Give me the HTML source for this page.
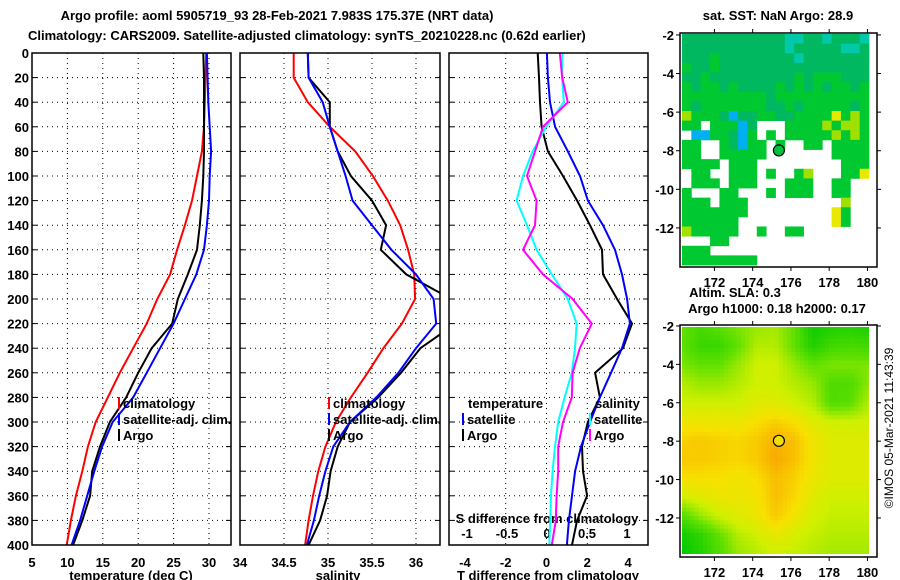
<!DOCTYPE html>
<html><head><meta charset="utf-8"><style>
body{margin:0;background:#fff;}
svg{display:block;font-family:"Liberation Sans",sans-serif;font-weight:bold;font-size:13px;}
</style></head><body>
<svg id="c" width="900" height="580" viewBox="0 0 900 580" xmlns="http://www.w3.org/2000/svg">
<text x="277" y="20" text-anchor="middle">Argo profile: aoml 5905719_93 28-Feb-2021 7.983S 175.37E (NRT data)</text>
<text x="28" y="40">Climatology: CARS2009. Satellite-adjusted climatology: synTS_20210228.nc (0.62d earlier)</text>
<text x="778" y="20" text-anchor="middle">sat. SST: NaN Argo: 28.9</text>
<text x="735" y="297" text-anchor="middle">Altim. SLA: 0.3</text>
<text x="777" y="313" text-anchor="middle">Argo h1000: 0.18 h2000: 0.17</text>
<text transform="translate(893,428) rotate(-90)" text-anchor="middle" style="font-weight:normal;font-size:12px">©IMOS 05-Mar-2021 11:43:39</text>
<g id="g"></g>
</svg>
<script>
const depths=[0,20,40,60,80,100,120,140,160,180,200,220,240,260,280,300,320,340,360,380,400];
const tempArgo=[29.2,29.3,29.3,29.3,29.3,29.2,29.0,28.7,28.3,27.0,25.6,24.8,21.9,20.0,18.3,16.0,14.6,13.5,13.2,12.1,10.8];
const tempSat=[29.7,29.8,29.9,30.1,30.3,30.1,30.0,29.7,29.3,28.2,26.6,25.0,23.1,21.2,19.3,16.4,14.9,13.8,12.8,11.8,10.6];
const tempClim=[29.6,29.5,29.4,29.3,29.0,28.3,27.6,26.6,25.5,24.5,22.7,21.2,19.3,17.4,15.7,14.0,12.9,12.1,11.2,10.5,9.9];
const salArgo=[34.77,34.78,35.02,35.02,35.11,35.26,35.5,35.66,35.6,35.89,36.4,36.45,36.05,35.83,35.57,35.25,35.11,35.03,34.99,34.91,34.78];
const salSat=[34.77,34.78,34.94,35.02,35.11,35.2,35.28,35.5,35.72,36.0,36.2,36.23,36.0,35.8,35.55,35.25,35.06,34.97,34.9,34.84,34.76];
const salClim=[34.61,34.61,34.77,35.02,35.31,35.51,35.68,35.82,35.91,35.98,35.99,35.84,35.63,35.45,35.26,35.09,34.97,34.89,34.83,34.78,34.74];
const tdiffArgo=[-0.43,-0.37,-0.32,-0.24,0.07,0.81,1.5,2.13,2.72,2.77,3.46,4.19,3.75,2.38,2.62,2.03,1.74,1.79,1.99,1.5,1.25];
const tdiffSat=[0.02,0.07,0.17,0.42,1.05,1.64,2.03,2.77,3.36,3.7,3.95,4.09,3.7,3.16,2.62,2.13,1.69,1.4,1.25,1.1,1.0];
const sdiffSat=[0.19,0.19,0.21,-0.01,-0.18,-0.3,-0.38,-0.25,-0.13,0.06,0.26,0.37,0.35,0.31,0.22,0.14,0.10,0.07,0.05,0.04,0.03];
const sdiffArgo=[0.16,0.19,0.26,-0.05,-0.15,-0.25,-0.13,-0.15,-0.3,-0.05,0.32,0.56,0.41,0.32,0.31,0.2,0.14,0.14,0.12,0.11,0.06];
const depthTicks=[0,20,40,60,80,100,120,140,160,180,200,220,240,260,280,300,320,340,360,380,400];
const tempTicks=[5,10,15,20,25,30];
const salTicks=[34,34.5,35,35.5,36];
const salTickLabels=["34","34.5","35","35.5","36"];
const tdTicks=[-4,-2,0,2,4];
const sdTicks=[-1,-0.5,0,0.5,1];
const sdTickLabels=["-1","-0.5","0","0.5","1"];
const lonTicks=[172,174,176,178,180];
const latTicks=[-2,-4,-6,-8,-10,-12];
const argoLon=175.37, argoLat=-7.983;
const sstRows=[
"tttttttttttccttctttc","tttttttttttctttttcct","tttgttttttttcttttttt","gttgtttttttttttttttt",
"ttgtttttttttgtgggttt","gtggtgttttgtgtgtggtg","gggggggggtgggggggggg","gtgggggggttgtgggggtg",
"ygggtbttggttggggYgyg","gg.gggbt...ggggygyyg",".bbggtbg.g.gggggygyg","gg..gtbgg.g..gg.gggg",
"gg..ggggg.......gggg","gggg.ggg.........ggg",".gg..ggg.g..gy...ggY",".ggg.ggg...ggg..gg..",
"g...gg...g.ggg..gg..","ggg.ggg..........y..","ggggggg.........Yg..","gggggg..........Yg..",
"yggggg..g..gg.......","...gg...............","ggg.................","gggggggg............"];
const slaGrid=[
[0.3,0.22,0.28,0.35,0.4,0.42,0.3,0.05,0.1,0.12,0.08],
[0.3,0.18,0.18,0.3,0.45,0.45,0.3,0.1,0.2,0.22,0.2],
[0.35,0.3,0.3,0.4,0.5,0.5,0.4,0.3,0.35,0.35,0.35],
[0.45,0.4,0.4,0.45,0.5,0.5,0.45,0.4,0.25,0.25,0.38],
[0.5,0.5,0.5,0.5,0.55,0.55,0.5,0.45,0.25,0.28,0.45],
[0.6,0.6,0.6,0.6,0.65,0.7,0.65,0.55,0.5,0.5,0.5],
[0.7,0.72,0.7,0.68,0.72,0.8,0.75,0.62,0.55,0.55,0.55],
[0.72,0.72,0.7,0.68,0.72,0.82,0.75,0.62,0.55,0.55,0.55],
[0.65,0.65,0.65,0.62,0.66,0.76,0.7,0.6,0.55,0.55,0.55],
[0.5,0.55,0.6,0.6,0.62,0.75,0.68,0.56,0.5,0.5,0.5],
[0.25,0.4,0.5,0.55,0.6,0.72,0.62,0.52,0.48,0.48,0.48],
[0.05,0.15,0.3,0.45,0.5,0.58,0.52,0.48,0.45,0.45,0.45],
[0.0,0.1,0.25,0.4,0.45,0.5,0.48,0.45,0.42,0.42,0.42]];

const NS="http://www.w3.org/2000/svg";
const G=document.getElementById('g');
function mk(tag,at,parent){const e=document.createElementNS(NS,tag);for(const k in at)e.setAttribute(k,at[k]);(parent||G).appendChild(e);return e;}
const Y0=53,Y1=545;
const yD=d=>Y0+d*(Y1-Y0)/400;
const xT=t=>32+(t-5)*7.08;
const xS=s=>240+(s-34)*88;
const xTd=v=>546.5+v*20.4;
const xSd=v=>547+v*80;
const panels=[[32,231],[240,440],[449,648]];
const defs=mk('defs',{});
panels.forEach((p,i)=>{const cp=mk('clipPath',{id:'cp'+i},defs);mk('rect',{x:p[0],y:Y0,width:p[1]-p[0],height:Y1-Y0},cp);});

function txt(x,y,s,anchor,name,extra){const t=mk('text',Object.assign({x:x,y:y,'text-anchor':anchor||'start'},extra||{}));t.textContent=s;


return t;}
function line(x1,y1,x2,y2,st,name){const l=mk('line',Object.assign({x1:x1,y1:y1,x2:x2,y2:y2},st));


return l;}
const dot={stroke:'#000','stroke-width':1,'stroke-dasharray':'1,4'};
panels.forEach((p,i)=>{
  depthTicks.forEach(d=>{line(p[0],yD(d),p[1],yD(d),dot,'depth-gridline');line(p[0],yD(d),p[0]+5,yD(d),{stroke:'#000'},'depth-tick');line(p[1]-5,yD(d),p[1],yD(d),{stroke:'#000'},'depth-tick');});
});
tempTicks.forEach(t=>{line(xT(t),Y0,xT(t),Y1,dot,'temp-gridline');txt(xT(t),567,String(t),'middle','temp-tick-label');});
salTicks.forEach((s,i)=>{line(xS(s),Y0,xS(s),Y1,dot,'sal-gridline');txt(xS(s),567,salTickLabels[i],'middle','sal-tick-label');});
tdTicks.forEach(t=>{if(t>-4&&t<4)line(xTd(t),Y0,xTd(t),Y1,dot,'tdiff-gridline');txt(xTd(t),567,String(t),'middle','tdiff-tick-label');});
sdTicks.forEach((s,i)=>{txt(xSd(s),538,sdTickLabels[i],'middle','sdiff-tick-label');});
txt(547,523,'S difference from climatology','middle','sdiff-axis-title');
depthTicks.forEach(d=>txt(29,yD(d)+5,String(d),'end','depth-tick-label'));
txt(131,580,'temperature (deg C)','middle','temp-axis-title');
txt(338,580,'salinity','middle','sal-axis-title');
txt(548,580,'T difference from climatology','middle','tdiff-axis-title');

function series(vals,xf,color,pi,name){
  const pts=vals.map((v,i)=>xf(v).toFixed(1)+','+yD(depths[i]).toFixed(1)).join(' ');
  const pl=mk('polyline',{points:pts,fill:'none',stroke:color,'stroke-width':2,'clip-path':'url(#cp'+pi+')'});
  
  
}
series(tempClim,xT,'#f00',0,'temp-climatology-line');
series(tempArgo,xT,'#000',0,'temp-argo-line');
series(tempSat,xT,'#00f',0,'temp-satellite-line');
series(salClim,xS,'#f00',1,'sal-climatology-line');
series(salArgo,xS,'#000',1,'sal-argo-line');
series(salSat,xS,'#00f',1,'sal-satellite-line');
series(tdiffArgo,xTd,'#000',2,'tdiff-argo-line');
series(tdiffSat,xTd,'#00f',2,'tdiff-satellite-line');
series(sdiffSat,xSd,'#0ff',2,'sdiff-satellite-line');
series(sdiffArgo,xSd,'#f0f',2,'sdiff-argo-line');
panels.forEach(p=>{const r=mk('rect',{x:p[0],y:Y0,width:p[1]-p[0],height:Y1-Y0,fill:'none',stroke:'#000','stroke-width':1.5});

});

function legend(x,y,color,label,name){if(color)line(x,y-11,x,y+1,{stroke:color,'stroke-width':2},name+'-swatch');txt(x+4,y,label,'start',name);}
legend(119,408,'#f00','climatology','legend-climatology');
legend(119,424,'#00f','satellite-adj. clim.','legend-satellite-adj');
legend(119,440,'#000','Argo','legend-argo');
legend(329,408,'#f00','climatology','legend-sal-climatology');
legend(329,424,'#00f','satellite-adj. clim.','legend-sal-satellite-adj');
legend(329,440,'#000','Argo','legend-sal-argo');
txt(468,408,'temperature','start','legend-temperature-heading');
legend(463,424,'#00f','satellite','legend-t-satellite');
legend(463,440,'#000','Argo','legend-t-argo');
txt(595,408,'salinity','start','legend-salinity-heading');
legend(590,424,'#0ff','satellite','legend-s-satellite');
legend(590,440,'#f0f','Argo','legend-s-argo');

const MX0=680,MX1=877,LON0=170.2,LON1=180.5;
const mlon=l=>MX0+(l-LON0)*(MX1-MX0)/(LON1-LON0);
function mapAxes(ytop,ybot,lat0,pxPerLat,labelY,name){
  const mlat=la=>ytop+(lat0-la)*pxPerLat;
  const fr=mk('rect',{x:MX0,y:ytop,width:MX1-MX0,height:ybot-ytop,fill:'none',stroke:'#000','stroke-width':1.5});
  
  
  latTicks.forEach(la=>{const y=mlat(la);line(MX0-4,y,MX0,y,{stroke:'#000'},'lat-tick');line(MX1,y,MX1+4,y,{stroke:'#000'},'lat-tick');txt(MX0-6,y+5,String(la),'end',name+'-lat-label');});
  lonTicks.forEach(lo=>{const x=mlon(lo);line(x,ytop-4,x,ytop,{stroke:'#000'},'lon-tick');line(x,ybot,x,ybot+4,{stroke:'#000'},'lon-tick');txt(x,labelY,String(lo),'middle',name+'-lon-label');});
  return mlat;
}
const sstColors={t:'#00b860',g:'#00c830',c:'#00c8a8',y:'#a0e000',Y:'#e8e800',b:'#00b0f0'};
const sTop=33,sBot=267;
const cw=(869-682)/20,ch=(sBot-2-sTop-1)/24;
sstRows.forEach((row,r)=>{for(let c=0;c<row.length;c++){const k=row[c];if(k==='.')continue;
  const e=mk('rect',{x:(682+c*cw).toFixed(2),y:(sTop+1+r*ch).toFixed(2),width:(cw+0.4).toFixed(2),height:(ch+0.4).toFixed(2),fill:sstColors[k]});
  
  }});
const sLat=mapAxes(sTop,sBot,-1.9,19.3,287,'sst-map');
const m1=mk('circle',{cx:mlon(argoLon),cy:sLat(argoLat),r:5.5,fill:'#00c040',stroke:'#000','stroke-width':1.2});


const bTop=325,bBot=557;
const stops=[[0,[0,200,0]],[0.3,[96,224,0]],[0.5,[208,240,0]],[0.65,[248,224,0]],[0.8,[248,176,0]],[1,[248,144,0]]];
function cmap(v){for(let i=1;i<stops.length;i++){if(v<=stops[i][0]){const a=stops[i-1],b=stops[i],f=(v-a[0])/(b[0]-a[0]);return 'rgb('+a[1].map((c,j)=>Math.round(c+(b[1][j]-c)*f)).join(',')+')';}}return 'rgb(248,144,0)';}
const bx0=682,bx1=869,by0=bTop+2,by1=bBot-3,step=4.2;
const nr=slaGrid.length,nc=slaGrid[0].length;
for(let y=by0;y<by1;y+=step){for(let x=bx0;x<bx1;x+=step){
  const gx=(x+step/2-bx0)/(bx1-bx0)*(nc-1), gy=(y+step/2-by0)/(by1-by0)*(nr-1);
  const i0=Math.min(Math.floor(gy),nr-2),j0=Math.min(Math.floor(gx),nc-2),fy=gy-i0,fx=gx-j0;
  const v=slaGrid[i0][j0]*(1-fx)*(1-fy)+slaGrid[i0][j0+1]*fx*(1-fy)+slaGrid[i0+1][j0]*(1-fx)*fy+slaGrid[i0+1][j0+1]*fx*fy;
  const e=mk('rect',{x:x.toFixed(1),y:y.toFixed(1),width:Math.min(step+0.3,bx1-x).toFixed(1),height:Math.min(step+0.3,by1-y).toFixed(1),fill:cmap(v)});
  
  
}}
const bLat=mapAxes(bTop,bBot,-1.95,19.2,577,'sla-map');
const m2=mk('circle',{cx:mlon(argoLon),cy:bLat(argoLat),r:5.5,fill:'#f0e000',stroke:'#000','stroke-width':1.2});


</script>
</body></html>
